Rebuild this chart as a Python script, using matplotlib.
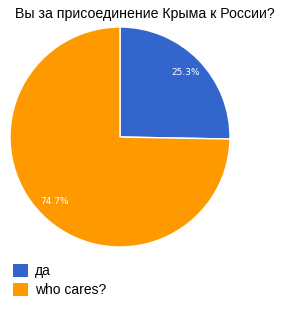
import matplotlib.pyplot as plt
from matplotlib.patches import Patch

title = 'Вы за присоединение Крыма к России?'
labels = ['да', 'who cares?']
values = [25.3, 74.7]
colors = ['#3366cc', '#ff9900']

fig = plt.figure(figsize=(2.9, 3.09), dpi=100)
ax = fig.add_axes([10 / 290, 62 / 309, 220 / 290, 220 / 309])

wedges, texts, autotexts = ax.pie(values, colors=colors, startangle=90, counterclock=False,
                                  autopct='%.1f%%', pctdistance=0.84,
                                  wedgeprops=dict(edgecolor='white', linewidth=1))
for t in autotexts:
    t.set_color('white')
    t.set_fontsize(6.5)
    t.set_family('DejaVu Sans')
ax.set_xlim(-1, 1)
ax.set_ylim(-1, 1)
ax.set_aspect('equal')

fig.text(0.5, 1 - 14 / 309, title, ha='center', va='center', fontsize=10.2, family='Liberation Sans')

handles = [Patch(facecolor=c) for c in colors]
fig.legend(handles, labels, loc='upper left', bbox_to_anchor=(0.0, 1 - 251 / 309),
           frameon=False, prop={'family': 'Liberation Sans', 'size': 10},
           handlelength=1.1, handleheight=1.1, handletextpad=0.5, labelspacing=0.35)

fig.savefig('out.png', dpi=100)
